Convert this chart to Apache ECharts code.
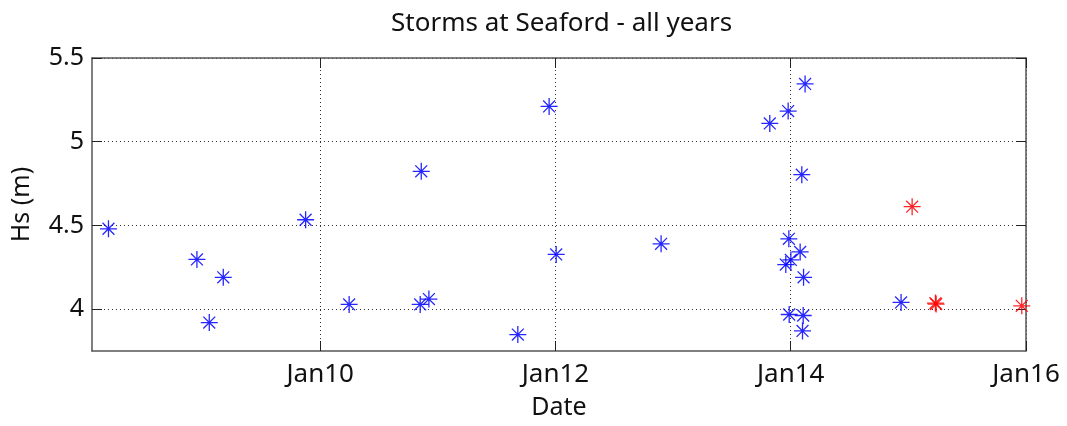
<!DOCTYPE html>
<html>
<head>
<meta charset="utf-8">
<script src="https://cdn.jsdelivr.net/npm/echarts@6/dist/echarts.min.js"></script>
<style>html,body{margin:0;padding:0;background:#fff;}#c{width:1067px;height:426px;}</style>
</head>
<body>
<div id="c"></div>
<script>
// Dates as decimal years
const blueDates = [2008.20, 2008.952, 2009.057, 2009.176, 2009.876, 2010.246, 2010.859, 2010.85, 2010.924,
  2011.680, 2011.946, 2012.006, 2012.898,
  2014.122, 2013.978, 2013.822, 2014.094, 2013.984, 2014.08, 2014.001, 2013.958, 2014.109, 2014.938,
  2013.987, 2014.106, 2014.10];
const blueHs = [4.48, 4.297, 3.92, 4.19, 4.534, 4.028, 4.823, 4.028, 4.06,
  3.848, 5.211, 4.327, 4.39,
  5.345, 5.183, 5.109, 4.803, 4.42, 4.342, 4.294, 4.266, 4.19, 4.04,
  3.968, 3.962, 3.87];
const redDates = [2015.032, 2015.230, 2015.236, 2015.964];
const redHs = [4.612, 4.036, 4.03, 4.02];
const xTickValues = [2010, 2012, 2014, 2016];
const xTickLabels = ['Jan10', 'Jan12', 'Jan14', 'Jan16'];
const yTickValues = [4, 4.5, 5, 5.5];

const star = 'path://M10,0 L10,20 M0,10 L20,10 M3,3 L17,17 M3,17 L17,3';
const font = '"Noto Sans", "Open Sans", sans-serif';
const gridLine = {show: true, lineStyle: {color: '#333', type: [1, 3], width: 1}};
const axisLineStyle = {show: true, lineStyle: {color: '#555', width: 1.5}};
const tickIn = {show: true, inside: true, length: 10, lineStyle: {color: '#222', width: 1}};

const chart = echarts.init(document.getElementById('c'));
chart.setOption({
  animation: false,
  title: {text: 'Storms at Seaford - all years', left: 386, top: 6,
    textStyle: {fontFamily: font, fontSize: 26, fontWeight: 'normal', color: '#111'}},
  grid: {left: 92, right: 41, top: 58, bottom: 75},
  xAxis: [{
    type: 'value', min: 2008.06, max: 2016.0, position: 'bottom',
    name: 'Date', nameLocation: 'middle', nameGap: 44,
    nameTextStyle: {fontFamily: font, fontSize: 25, color: '#111'},
    axisLine: axisLineStyle,
    axisTick: Object.assign({customValues: xTickValues}, tickIn),
    axisLabel: {customValues: xTickValues, margin: 11, fontFamily: font, fontSize: 26, color: '#111',
      formatter: v => xTickLabels[xTickValues.indexOf(Math.round(v))] || ''},
    splitLine: gridLine
  }, {
    type: 'value', min: 2008.06, max: 2016.0, position: 'top',
    axisLine: axisLineStyle,
    axisTick: Object.assign({customValues: xTickValues}, tickIn),
    axisLabel: {show: false}, splitLine: {show: false}
  }],
  yAxis: [{
    type: 'value', min: 3.75, max: 5.5, position: 'left',
    name: 'Hs (m)', nameLocation: 'middle', nameGap: 58, nameRotate: 90,
    nameTextStyle: {fontFamily: font, fontSize: 25, color: '#111'},
    axisLine: axisLineStyle,
    axisTick: Object.assign({customValues: yTickValues}, tickIn),
    axisLabel: {customValues: yTickValues, margin: 8, fontFamily: font, fontSize: 25, color: '#111'},
    splitLine: gridLine
  }, {
    type: 'value', min: 3.75, max: 5.5, position: 'right',
    axisLine: axisLineStyle,
    axisTick: Object.assign({customValues: yTickValues}, tickIn),
    axisLabel: {show: false}, splitLine: {show: false}
  }],
  series: [{
    type: 'scatter', xAxisIndex: 0, yAxisIndex: 0,
    symbol: star, symbolSize: 17,
    itemStyle: {color: '#0000ff', borderColor: '#0000ff', borderWidth: 1.3, opacity: 0.85},
    data: blueDates.map((d, i) => [d, blueHs[i]])
  }, {
    type: 'scatter', xAxisIndex: 0, yAxisIndex: 0,
    symbol: star, symbolSize: 17,
    itemStyle: {color: '#ff0000', borderColor: '#ff0000', borderWidth: 1.3, opacity: 0.85},
    data: redDates.map((d, i) => [d, redHs[i]])
  }]
});
</script>
</body>
</html>
